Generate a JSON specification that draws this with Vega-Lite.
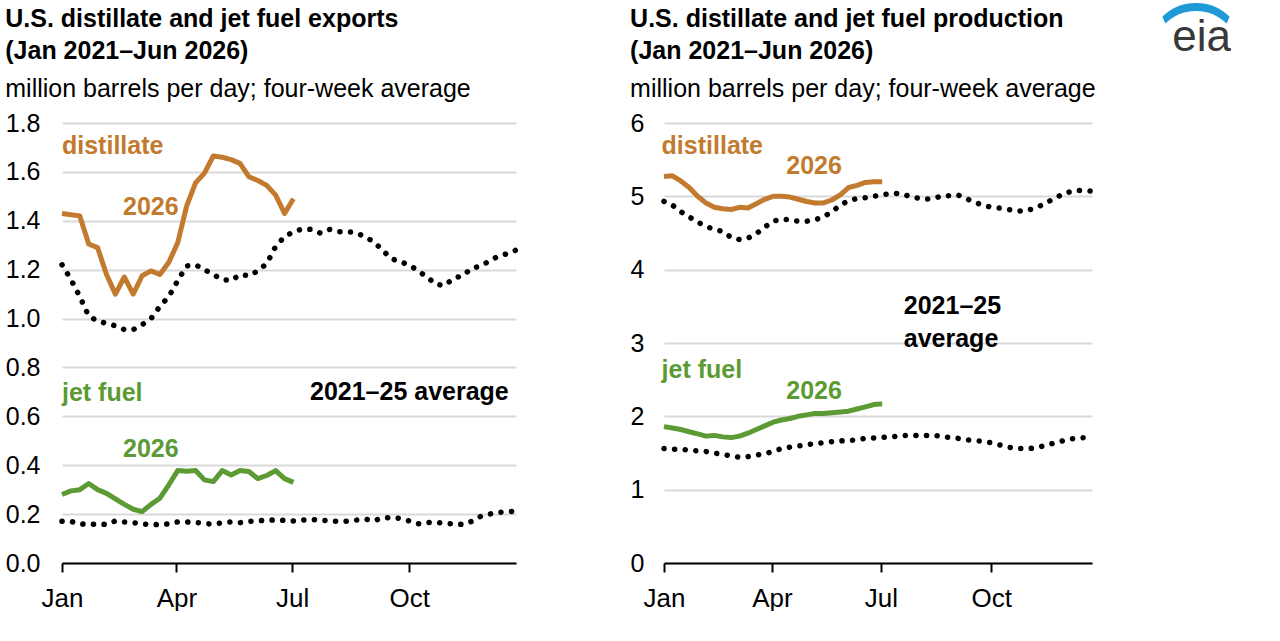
{
  "$schema": "https://vega.github.io/schema/vega-lite/v6.json",
  "background": "white",
  "padding": {"left": 5, "top": -38, "right": 0, "bottom": 0},
  "title": {
    "text": "︵",
    "subtitle": "eia",
    "anchor": "end",
    "frame": "bounds",
    "offset": -54,
    "dx": 128,
    "font": "Noto Sans CJK JP",
    "fontSize": 70,
    "fontWeight": "bold",
    "lineHeight": 70,
    "color": "#1E9BD7",
    "subtitleFont": "Liberation Sans",
    "subtitleFontSize": 44,
    "subtitleFontWeight": "normal",
    "subtitleColor": "#383838",
    "subtitlePadding": -17
  },
  "config": {
    "view": {"stroke": null},
    "font": "Liberation Sans",
    "concat": {"spacing": 103},
    "title": {
      "font": "Liberation Sans",
      "fontSize": 25,
      "fontWeight": "bold",
      "color": "#000000",
      "anchor": "start",
      "frame": "bounds",
      "lineHeight": 32,
      "subtitleFont": "Liberation Sans",
      "subtitleFontSize": 25,
      "subtitleFontWeight": "normal",
      "subtitleColor": "#000000",
      "subtitleLineHeight": 32,
      "subtitlePadding": 13,
      "offset": 9
    },
    "axis": {"labelFont": "Liberation Sans", "labelFontSize": 25, "labelColor": "#000000", "title": null}
  },
  "datasets": {
    "exports": [
      {"week": "2026-01-01", "fuel": "distillate", "series": "2026", "mbd": 1.43},
      {"week": "2026-01-08", "fuel": "distillate", "series": "2026", "mbd": 1.425},
      {"week": "2026-01-15", "fuel": "distillate", "series": "2026", "mbd": 1.42},
      {"week": "2026-01-22", "fuel": "distillate", "series": "2026", "mbd": 1.305},
      {"week": "2026-01-29", "fuel": "distillate", "series": "2026", "mbd": 1.29},
      {"week": "2026-02-05", "fuel": "distillate", "series": "2026", "mbd": 1.18},
      {"week": "2026-02-12", "fuel": "distillate", "series": "2026", "mbd": 1.1},
      {"week": "2026-02-19", "fuel": "distillate", "series": "2026", "mbd": 1.17},
      {"week": "2026-02-26", "fuel": "distillate", "series": "2026", "mbd": 1.1},
      {"week": "2026-03-05", "fuel": "distillate", "series": "2026", "mbd": 1.175},
      {"week": "2026-03-12", "fuel": "distillate", "series": "2026", "mbd": 1.195},
      {"week": "2026-03-19", "fuel": "distillate", "series": "2026", "mbd": 1.18},
      {"week": "2026-03-26", "fuel": "distillate", "series": "2026", "mbd": 1.23},
      {"week": "2026-04-02", "fuel": "distillate", "series": "2026", "mbd": 1.31},
      {"week": "2026-04-09", "fuel": "distillate", "series": "2026", "mbd": 1.46},
      {"week": "2026-04-16", "fuel": "distillate", "series": "2026", "mbd": 1.555},
      {"week": "2026-04-23", "fuel": "distillate", "series": "2026", "mbd": 1.595},
      {"week": "2026-04-30", "fuel": "distillate", "series": "2026", "mbd": 1.665},
      {"week": "2026-05-07", "fuel": "distillate", "series": "2026", "mbd": 1.66},
      {"week": "2026-05-14", "fuel": "distillate", "series": "2026", "mbd": 1.65},
      {"week": "2026-05-21", "fuel": "distillate", "series": "2026", "mbd": 1.635},
      {"week": "2026-05-28", "fuel": "distillate", "series": "2026", "mbd": 1.58},
      {"week": "2026-06-04", "fuel": "distillate", "series": "2026", "mbd": 1.565},
      {"week": "2026-06-11", "fuel": "distillate", "series": "2026", "mbd": 1.545},
      {"week": "2026-06-18", "fuel": "distillate", "series": "2026", "mbd": 1.505},
      {"week": "2026-06-25", "fuel": "distillate", "series": "2026", "mbd": 1.43},
      {"week": "2026-07-02", "fuel": "distillate", "series": "2026", "mbd": 1.49},
      {"week": "2026-01-01", "fuel": "distillate", "series": "2021–25 average", "mbd": 1.22},
      {"week": "2026-01-08", "fuel": "distillate", "series": "2021–25 average", "mbd": 1.16},
      {"week": "2026-01-15", "fuel": "distillate", "series": "2021–25 average", "mbd": 1.09},
      {"week": "2026-01-22", "fuel": "distillate", "series": "2021–25 average", "mbd": 1.01},
      {"week": "2026-01-29", "fuel": "distillate", "series": "2021–25 average", "mbd": 0.99},
      {"week": "2026-02-05", "fuel": "distillate", "series": "2021–25 average", "mbd": 0.98},
      {"week": "2026-02-12", "fuel": "distillate", "series": "2021–25 average", "mbd": 0.97},
      {"week": "2026-02-19", "fuel": "distillate", "series": "2021–25 average", "mbd": 0.955},
      {"week": "2026-02-26", "fuel": "distillate", "series": "2021–25 average", "mbd": 0.955},
      {"week": "2026-03-05", "fuel": "distillate", "series": "2021–25 average", "mbd": 0.975},
      {"week": "2026-03-12", "fuel": "distillate", "series": "2021–25 average", "mbd": 1.0},
      {"week": "2026-03-19", "fuel": "distillate", "series": "2021–25 average", "mbd": 1.05},
      {"week": "2026-03-26", "fuel": "distillate", "series": "2021–25 average", "mbd": 1.09},
      {"week": "2026-04-02", "fuel": "distillate", "series": "2021–25 average", "mbd": 1.155},
      {"week": "2026-04-09", "fuel": "distillate", "series": "2021–25 average", "mbd": 1.215},
      {"week": "2026-04-16", "fuel": "distillate", "series": "2021–25 average", "mbd": 1.22},
      {"week": "2026-04-23", "fuel": "distillate", "series": "2021–25 average", "mbd": 1.2},
      {"week": "2026-04-30", "fuel": "distillate", "series": "2021–25 average", "mbd": 1.18},
      {"week": "2026-05-07", "fuel": "distillate", "series": "2021–25 average", "mbd": 1.16},
      {"week": "2026-05-14", "fuel": "distillate", "series": "2021–25 average", "mbd": 1.155},
      {"week": "2026-05-21", "fuel": "distillate", "series": "2021–25 average", "mbd": 1.18},
      {"week": "2026-05-28", "fuel": "distillate", "series": "2021–25 average", "mbd": 1.175},
      {"week": "2026-06-04", "fuel": "distillate", "series": "2021–25 average", "mbd": 1.195},
      {"week": "2026-06-11", "fuel": "distillate", "series": "2021–25 average", "mbd": 1.225},
      {"week": "2026-06-18", "fuel": "distillate", "series": "2021–25 average", "mbd": 1.295},
      {"week": "2026-06-25", "fuel": "distillate", "series": "2021–25 average", "mbd": 1.335},
      {"week": "2026-07-02", "fuel": "distillate", "series": "2021–25 average", "mbd": 1.355},
      {"week": "2026-07-09", "fuel": "distillate", "series": "2021–25 average", "mbd": 1.367},
      {"week": "2026-07-16", "fuel": "distillate", "series": "2021–25 average", "mbd": 1.365},
      {"week": "2026-07-23", "fuel": "distillate", "series": "2021–25 average", "mbd": 1.35},
      {"week": "2026-07-30", "fuel": "distillate", "series": "2021–25 average", "mbd": 1.365},
      {"week": "2026-08-06", "fuel": "distillate", "series": "2021–25 average", "mbd": 1.355},
      {"week": "2026-08-13", "fuel": "distillate", "series": "2021–25 average", "mbd": 1.355},
      {"week": "2026-08-20", "fuel": "distillate", "series": "2021–25 average", "mbd": 1.352},
      {"week": "2026-08-27", "fuel": "distillate", "series": "2021–25 average", "mbd": 1.335},
      {"week": "2026-09-03", "fuel": "distillate", "series": "2021–25 average", "mbd": 1.315},
      {"week": "2026-09-10", "fuel": "distillate", "series": "2021–25 average", "mbd": 1.28},
      {"week": "2026-09-17", "fuel": "distillate", "series": "2021–25 average", "mbd": 1.245},
      {"week": "2026-09-24", "fuel": "distillate", "series": "2021–25 average", "mbd": 1.232},
      {"week": "2026-10-01", "fuel": "distillate", "series": "2021–25 average", "mbd": 1.22},
      {"week": "2026-10-08", "fuel": "distillate", "series": "2021–25 average", "mbd": 1.195},
      {"week": "2026-10-15", "fuel": "distillate", "series": "2021–25 average", "mbd": 1.17},
      {"week": "2026-10-22", "fuel": "distillate", "series": "2021–25 average", "mbd": 1.14},
      {"week": "2026-10-29", "fuel": "distillate", "series": "2021–25 average", "mbd": 1.135},
      {"week": "2026-11-05", "fuel": "distillate", "series": "2021–25 average", "mbd": 1.165},
      {"week": "2026-11-12", "fuel": "distillate", "series": "2021–25 average", "mbd": 1.175},
      {"week": "2026-11-19", "fuel": "distillate", "series": "2021–25 average", "mbd": 1.205},
      {"week": "2026-11-26", "fuel": "distillate", "series": "2021–25 average", "mbd": 1.215},
      {"week": "2026-12-03", "fuel": "distillate", "series": "2021–25 average", "mbd": 1.235},
      {"week": "2026-12-10", "fuel": "distillate", "series": "2021–25 average", "mbd": 1.255},
      {"week": "2026-12-17", "fuel": "distillate", "series": "2021–25 average", "mbd": 1.265},
      {"week": "2026-12-24", "fuel": "distillate", "series": "2021–25 average", "mbd": 1.28},
      {"week": "2026-01-01", "fuel": "jet fuel", "series": "2026", "mbd": 0.28},
      {"week": "2026-01-08", "fuel": "jet fuel", "series": "2026", "mbd": 0.295},
      {"week": "2026-01-15", "fuel": "jet fuel", "series": "2026", "mbd": 0.3},
      {"week": "2026-01-22", "fuel": "jet fuel", "series": "2026", "mbd": 0.325},
      {"week": "2026-01-29", "fuel": "jet fuel", "series": "2026", "mbd": 0.3},
      {"week": "2026-02-05", "fuel": "jet fuel", "series": "2026", "mbd": 0.285},
      {"week": "2026-02-12", "fuel": "jet fuel", "series": "2026", "mbd": 0.262},
      {"week": "2026-02-19", "fuel": "jet fuel", "series": "2026", "mbd": 0.24},
      {"week": "2026-02-26", "fuel": "jet fuel", "series": "2026", "mbd": 0.22},
      {"week": "2026-03-05", "fuel": "jet fuel", "series": "2026", "mbd": 0.21},
      {"week": "2026-03-12", "fuel": "jet fuel", "series": "2026", "mbd": 0.24},
      {"week": "2026-03-19", "fuel": "jet fuel", "series": "2026", "mbd": 0.265},
      {"week": "2026-03-26", "fuel": "jet fuel", "series": "2026", "mbd": 0.32},
      {"week": "2026-04-02", "fuel": "jet fuel", "series": "2026", "mbd": 0.378},
      {"week": "2026-04-09", "fuel": "jet fuel", "series": "2026", "mbd": 0.375},
      {"week": "2026-04-16", "fuel": "jet fuel", "series": "2026", "mbd": 0.378},
      {"week": "2026-04-23", "fuel": "jet fuel", "series": "2026", "mbd": 0.34},
      {"week": "2026-04-30", "fuel": "jet fuel", "series": "2026", "mbd": 0.333},
      {"week": "2026-05-07", "fuel": "jet fuel", "series": "2026", "mbd": 0.378},
      {"week": "2026-05-14", "fuel": "jet fuel", "series": "2026", "mbd": 0.36},
      {"week": "2026-05-21", "fuel": "jet fuel", "series": "2026", "mbd": 0.378},
      {"week": "2026-05-28", "fuel": "jet fuel", "series": "2026", "mbd": 0.374},
      {"week": "2026-06-04", "fuel": "jet fuel", "series": "2026", "mbd": 0.345},
      {"week": "2026-06-11", "fuel": "jet fuel", "series": "2026", "mbd": 0.358},
      {"week": "2026-06-18", "fuel": "jet fuel", "series": "2026", "mbd": 0.378},
      {"week": "2026-06-25", "fuel": "jet fuel", "series": "2026", "mbd": 0.345},
      {"week": "2026-07-02", "fuel": "jet fuel", "series": "2026", "mbd": 0.33},
      {"week": "2026-01-01", "fuel": "jet fuel", "series": "2021–25 average", "mbd": 0.171},
      {"week": "2026-01-08", "fuel": "jet fuel", "series": "2021–25 average", "mbd": 0.17},
      {"week": "2026-01-15", "fuel": "jet fuel", "series": "2021–25 average", "mbd": 0.16},
      {"week": "2026-01-22", "fuel": "jet fuel", "series": "2021–25 average", "mbd": 0.158},
      {"week": "2026-01-29", "fuel": "jet fuel", "series": "2021–25 average", "mbd": 0.159},
      {"week": "2026-02-05", "fuel": "jet fuel", "series": "2021–25 average", "mbd": 0.158},
      {"week": "2026-02-12", "fuel": "jet fuel", "series": "2021–25 average", "mbd": 0.172},
      {"week": "2026-02-19", "fuel": "jet fuel", "series": "2021–25 average", "mbd": 0.168},
      {"week": "2026-02-26", "fuel": "jet fuel", "series": "2021–25 average", "mbd": 0.165},
      {"week": "2026-03-05", "fuel": "jet fuel", "series": "2021–25 average", "mbd": 0.16},
      {"week": "2026-03-12", "fuel": "jet fuel", "series": "2021–25 average", "mbd": 0.156},
      {"week": "2026-03-19", "fuel": "jet fuel", "series": "2021–25 average", "mbd": 0.158},
      {"week": "2026-03-26", "fuel": "jet fuel", "series": "2021–25 average", "mbd": 0.16},
      {"week": "2026-04-02", "fuel": "jet fuel", "series": "2021–25 average", "mbd": 0.168},
      {"week": "2026-04-09", "fuel": "jet fuel", "series": "2021–25 average", "mbd": 0.168},
      {"week": "2026-04-16", "fuel": "jet fuel", "series": "2021–25 average", "mbd": 0.166},
      {"week": "2026-04-23", "fuel": "jet fuel", "series": "2021–25 average", "mbd": 0.162},
      {"week": "2026-04-30", "fuel": "jet fuel", "series": "2021–25 average", "mbd": 0.158},
      {"week": "2026-05-07", "fuel": "jet fuel", "series": "2021–25 average", "mbd": 0.165},
      {"week": "2026-05-14", "fuel": "jet fuel", "series": "2021–25 average", "mbd": 0.168},
      {"week": "2026-05-21", "fuel": "jet fuel", "series": "2021–25 average", "mbd": 0.165},
      {"week": "2026-05-28", "fuel": "jet fuel", "series": "2021–25 average", "mbd": 0.17},
      {"week": "2026-06-04", "fuel": "jet fuel", "series": "2021–25 average", "mbd": 0.173},
      {"week": "2026-06-11", "fuel": "jet fuel", "series": "2021–25 average", "mbd": 0.175},
      {"week": "2026-06-18", "fuel": "jet fuel", "series": "2021–25 average", "mbd": 0.176},
      {"week": "2026-06-25", "fuel": "jet fuel", "series": "2021–25 average", "mbd": 0.174},
      {"week": "2026-07-02", "fuel": "jet fuel", "series": "2021–25 average", "mbd": 0.172},
      {"week": "2026-07-09", "fuel": "jet fuel", "series": "2021–25 average", "mbd": 0.176},
      {"week": "2026-07-16", "fuel": "jet fuel", "series": "2021–25 average", "mbd": 0.178},
      {"week": "2026-07-23", "fuel": "jet fuel", "series": "2021–25 average", "mbd": 0.176},
      {"week": "2026-07-30", "fuel": "jet fuel", "series": "2021–25 average", "mbd": 0.172},
      {"week": "2026-08-06", "fuel": "jet fuel", "series": "2021–25 average", "mbd": 0.171},
      {"week": "2026-08-13", "fuel": "jet fuel", "series": "2021–25 average", "mbd": 0.171},
      {"week": "2026-08-20", "fuel": "jet fuel", "series": "2021–25 average", "mbd": 0.175},
      {"week": "2026-08-27", "fuel": "jet fuel", "series": "2021–25 average", "mbd": 0.18},
      {"week": "2026-09-03", "fuel": "jet fuel", "series": "2021–25 average", "mbd": 0.172},
      {"week": "2026-09-10", "fuel": "jet fuel", "series": "2021–25 average", "mbd": 0.185},
      {"week": "2026-09-17", "fuel": "jet fuel", "series": "2021–25 average", "mbd": 0.186},
      {"week": "2026-09-24", "fuel": "jet fuel", "series": "2021–25 average", "mbd": 0.182},
      {"week": "2026-10-01", "fuel": "jet fuel", "series": "2021–25 average", "mbd": 0.172},
      {"week": "2026-10-08", "fuel": "jet fuel", "series": "2021–25 average", "mbd": 0.16},
      {"week": "2026-10-15", "fuel": "jet fuel", "series": "2021–25 average", "mbd": 0.166},
      {"week": "2026-10-22", "fuel": "jet fuel", "series": "2021–25 average", "mbd": 0.166},
      {"week": "2026-10-29", "fuel": "jet fuel", "series": "2021–25 average", "mbd": 0.163},
      {"week": "2026-11-05", "fuel": "jet fuel", "series": "2021–25 average", "mbd": 0.159},
      {"week": "2026-11-12", "fuel": "jet fuel", "series": "2021–25 average", "mbd": 0.158},
      {"week": "2026-11-19", "fuel": "jet fuel", "series": "2021–25 average", "mbd": 0.17},
      {"week": "2026-11-26", "fuel": "jet fuel", "series": "2021–25 average", "mbd": 0.19},
      {"week": "2026-12-03", "fuel": "jet fuel", "series": "2021–25 average", "mbd": 0.2},
      {"week": "2026-12-10", "fuel": "jet fuel", "series": "2021–25 average", "mbd": 0.207},
      {"week": "2026-12-17", "fuel": "jet fuel", "series": "2021–25 average", "mbd": 0.21},
      {"week": "2026-12-24", "fuel": "jet fuel", "series": "2021–25 average", "mbd": 0.212}
    ],
    "exportNotes": [
      {"label": "distillate", "fuel": "distillate", "week": "2026-01-01", "mbd": 1.705},
      {"label": "2026", "fuel": "distillate", "week": "2026-02-18", "mbd": 1.455},
      {"label": "jet fuel", "fuel": "jet fuel", "week": "2026-01-01", "mbd": 0.695},
      {"label": "2026", "fuel": "jet fuel", "week": "2026-02-18", "mbd": 0.465},
      {"label": "2021–25 average", "fuel": "2021–25 average", "week": "2026-07-15", "mbd": 0.7}
    ],
    "production": [
      {"week": "2026-01-01", "fuel": "distillate", "series": "2026", "mbd": 5.27},
      {"week": "2026-01-08", "fuel": "distillate", "series": "2026", "mbd": 5.28},
      {"week": "2026-01-15", "fuel": "distillate", "series": "2026", "mbd": 5.21},
      {"week": "2026-01-22", "fuel": "distillate", "series": "2026", "mbd": 5.12},
      {"week": "2026-01-29", "fuel": "distillate", "series": "2026", "mbd": 5.0},
      {"week": "2026-02-05", "fuel": "distillate", "series": "2026", "mbd": 4.91},
      {"week": "2026-02-12", "fuel": "distillate", "series": "2026", "mbd": 4.85},
      {"week": "2026-02-19", "fuel": "distillate", "series": "2026", "mbd": 4.83},
      {"week": "2026-02-26", "fuel": "distillate", "series": "2026", "mbd": 4.82},
      {"week": "2026-03-05", "fuel": "distillate", "series": "2026", "mbd": 4.85},
      {"week": "2026-03-12", "fuel": "distillate", "series": "2026", "mbd": 4.84},
      {"week": "2026-03-19", "fuel": "distillate", "series": "2026", "mbd": 4.9},
      {"week": "2026-03-26", "fuel": "distillate", "series": "2026", "mbd": 4.96},
      {"week": "2026-04-02", "fuel": "distillate", "series": "2026", "mbd": 5.0},
      {"week": "2026-04-09", "fuel": "distillate", "series": "2026", "mbd": 5.0},
      {"week": "2026-04-16", "fuel": "distillate", "series": "2026", "mbd": 4.99},
      {"week": "2026-04-23", "fuel": "distillate", "series": "2026", "mbd": 4.96},
      {"week": "2026-04-30", "fuel": "distillate", "series": "2026", "mbd": 4.93},
      {"week": "2026-05-07", "fuel": "distillate", "series": "2026", "mbd": 4.91},
      {"week": "2026-05-14", "fuel": "distillate", "series": "2026", "mbd": 4.91},
      {"week": "2026-05-21", "fuel": "distillate", "series": "2026", "mbd": 4.95},
      {"week": "2026-05-28", "fuel": "distillate", "series": "2026", "mbd": 5.02},
      {"week": "2026-06-04", "fuel": "distillate", "series": "2026", "mbd": 5.12},
      {"week": "2026-06-11", "fuel": "distillate", "series": "2026", "mbd": 5.15},
      {"week": "2026-06-18", "fuel": "distillate", "series": "2026", "mbd": 5.19},
      {"week": "2026-06-25", "fuel": "distillate", "series": "2026", "mbd": 5.2},
      {"week": "2026-07-02", "fuel": "distillate", "series": "2026", "mbd": 5.2},
      {"week": "2026-01-01", "fuel": "distillate", "series": "2021–25 average", "mbd": 4.93},
      {"week": "2026-01-08", "fuel": "distillate", "series": "2021–25 average", "mbd": 4.88},
      {"week": "2026-01-15", "fuel": "distillate", "series": "2021–25 average", "mbd": 4.79},
      {"week": "2026-01-22", "fuel": "distillate", "series": "2021–25 average", "mbd": 4.72},
      {"week": "2026-01-29", "fuel": "distillate", "series": "2021–25 average", "mbd": 4.65},
      {"week": "2026-02-05", "fuel": "distillate", "series": "2021–25 average", "mbd": 4.59},
      {"week": "2026-02-12", "fuel": "distillate", "series": "2021–25 average", "mbd": 4.55},
      {"week": "2026-02-19", "fuel": "distillate", "series": "2021–25 average", "mbd": 4.52},
      {"week": "2026-02-26", "fuel": "distillate", "series": "2021–25 average", "mbd": 4.44},
      {"week": "2026-03-05", "fuel": "distillate", "series": "2021–25 average", "mbd": 4.41},
      {"week": "2026-03-12", "fuel": "distillate", "series": "2021–25 average", "mbd": 4.43},
      {"week": "2026-03-19", "fuel": "distillate", "series": "2021–25 average", "mbd": 4.49},
      {"week": "2026-03-26", "fuel": "distillate", "series": "2021–25 average", "mbd": 4.58},
      {"week": "2026-04-02", "fuel": "distillate", "series": "2021–25 average", "mbd": 4.66},
      {"week": "2026-04-09", "fuel": "distillate", "series": "2021–25 average", "mbd": 4.69},
      {"week": "2026-04-16", "fuel": "distillate", "series": "2021–25 average", "mbd": 4.68},
      {"week": "2026-04-23", "fuel": "distillate", "series": "2021–25 average", "mbd": 4.66},
      {"week": "2026-04-30", "fuel": "distillate", "series": "2021–25 average", "mbd": 4.66},
      {"week": "2026-05-07", "fuel": "distillate", "series": "2021–25 average", "mbd": 4.68},
      {"week": "2026-05-14", "fuel": "distillate", "series": "2021–25 average", "mbd": 4.72},
      {"week": "2026-05-21", "fuel": "distillate", "series": "2021–25 average", "mbd": 4.79},
      {"week": "2026-05-28", "fuel": "distillate", "series": "2021–25 average", "mbd": 4.88},
      {"week": "2026-06-04", "fuel": "distillate", "series": "2021–25 average", "mbd": 4.94},
      {"week": "2026-06-11", "fuel": "distillate", "series": "2021–25 average", "mbd": 4.97},
      {"week": "2026-06-18", "fuel": "distillate", "series": "2021–25 average", "mbd": 4.98},
      {"week": "2026-06-25", "fuel": "distillate", "series": "2021–25 average", "mbd": 5.0},
      {"week": "2026-07-02", "fuel": "distillate", "series": "2021–25 average", "mbd": 5.02},
      {"week": "2026-07-09", "fuel": "distillate", "series": "2021–25 average", "mbd": 5.04},
      {"week": "2026-07-16", "fuel": "distillate", "series": "2021–25 average", "mbd": 5.04},
      {"week": "2026-07-23", "fuel": "distillate", "series": "2021–25 average", "mbd": 5.01},
      {"week": "2026-07-30", "fuel": "distillate", "series": "2021–25 average", "mbd": 4.98},
      {"week": "2026-08-06", "fuel": "distillate", "series": "2021–25 average", "mbd": 4.96},
      {"week": "2026-08-13", "fuel": "distillate", "series": "2021–25 average", "mbd": 4.97},
      {"week": "2026-08-20", "fuel": "distillate", "series": "2021–25 average", "mbd": 5.0},
      {"week": "2026-08-27", "fuel": "distillate", "series": "2021–25 average", "mbd": 5.01},
      {"week": "2026-09-03", "fuel": "distillate", "series": "2021–25 average", "mbd": 5.02},
      {"week": "2026-09-10", "fuel": "distillate", "series": "2021–25 average", "mbd": 4.97},
      {"week": "2026-09-17", "fuel": "distillate", "series": "2021–25 average", "mbd": 4.92},
      {"week": "2026-09-24", "fuel": "distillate", "series": "2021–25 average", "mbd": 4.88},
      {"week": "2026-10-01", "fuel": "distillate", "series": "2021–25 average", "mbd": 4.85},
      {"week": "2026-10-08", "fuel": "distillate", "series": "2021–25 average", "mbd": 4.84},
      {"week": "2026-10-15", "fuel": "distillate", "series": "2021–25 average", "mbd": 4.82},
      {"week": "2026-10-22", "fuel": "distillate", "series": "2021–25 average", "mbd": 4.8},
      {"week": "2026-10-29", "fuel": "distillate", "series": "2021–25 average", "mbd": 4.8},
      {"week": "2026-11-05", "fuel": "distillate", "series": "2021–25 average", "mbd": 4.83},
      {"week": "2026-11-12", "fuel": "distillate", "series": "2021–25 average", "mbd": 4.88},
      {"week": "2026-11-19", "fuel": "distillate", "series": "2021–25 average", "mbd": 4.94},
      {"week": "2026-11-26", "fuel": "distillate", "series": "2021–25 average", "mbd": 5.0},
      {"week": "2026-12-03", "fuel": "distillate", "series": "2021–25 average", "mbd": 5.05},
      {"week": "2026-12-10", "fuel": "distillate", "series": "2021–25 average", "mbd": 5.08},
      {"week": "2026-12-17", "fuel": "distillate", "series": "2021–25 average", "mbd": 5.08},
      {"week": "2026-12-24", "fuel": "distillate", "series": "2021–25 average", "mbd": 5.07},
      {"week": "2026-01-01", "fuel": "jet fuel", "series": "2026", "mbd": 1.86},
      {"week": "2026-01-08", "fuel": "jet fuel", "series": "2026", "mbd": 1.84},
      {"week": "2026-01-15", "fuel": "jet fuel", "series": "2026", "mbd": 1.82},
      {"week": "2026-01-22", "fuel": "jet fuel", "series": "2026", "mbd": 1.79},
      {"week": "2026-01-29", "fuel": "jet fuel", "series": "2026", "mbd": 1.76},
      {"week": "2026-02-05", "fuel": "jet fuel", "series": "2026", "mbd": 1.73},
      {"week": "2026-02-12", "fuel": "jet fuel", "series": "2026", "mbd": 1.74},
      {"week": "2026-02-19", "fuel": "jet fuel", "series": "2026", "mbd": 1.72},
      {"week": "2026-02-26", "fuel": "jet fuel", "series": "2026", "mbd": 1.71},
      {"week": "2026-03-05", "fuel": "jet fuel", "series": "2026", "mbd": 1.73},
      {"week": "2026-03-12", "fuel": "jet fuel", "series": "2026", "mbd": 1.77},
      {"week": "2026-03-19", "fuel": "jet fuel", "series": "2026", "mbd": 1.82},
      {"week": "2026-03-26", "fuel": "jet fuel", "series": "2026", "mbd": 1.87},
      {"week": "2026-04-02", "fuel": "jet fuel", "series": "2026", "mbd": 1.92},
      {"week": "2026-04-09", "fuel": "jet fuel", "series": "2026", "mbd": 1.95},
      {"week": "2026-04-16", "fuel": "jet fuel", "series": "2026", "mbd": 1.97},
      {"week": "2026-04-23", "fuel": "jet fuel", "series": "2026", "mbd": 2.0},
      {"week": "2026-04-30", "fuel": "jet fuel", "series": "2026", "mbd": 2.02},
      {"week": "2026-05-07", "fuel": "jet fuel", "series": "2026", "mbd": 2.04},
      {"week": "2026-05-14", "fuel": "jet fuel", "series": "2026", "mbd": 2.04},
      {"week": "2026-05-21", "fuel": "jet fuel", "series": "2026", "mbd": 2.05},
      {"week": "2026-05-28", "fuel": "jet fuel", "series": "2026", "mbd": 2.06},
      {"week": "2026-06-04", "fuel": "jet fuel", "series": "2026", "mbd": 2.07},
      {"week": "2026-06-11", "fuel": "jet fuel", "series": "2026", "mbd": 2.1},
      {"week": "2026-06-18", "fuel": "jet fuel", "series": "2026", "mbd": 2.13},
      {"week": "2026-06-25", "fuel": "jet fuel", "series": "2026", "mbd": 2.16},
      {"week": "2026-07-02", "fuel": "jet fuel", "series": "2026", "mbd": 2.17},
      {"week": "2026-01-01", "fuel": "jet fuel", "series": "2021–25 average", "mbd": 1.56},
      {"week": "2026-01-08", "fuel": "jet fuel", "series": "2021–25 average", "mbd": 1.55},
      {"week": "2026-01-15", "fuel": "jet fuel", "series": "2021–25 average", "mbd": 1.55},
      {"week": "2026-01-22", "fuel": "jet fuel", "series": "2021–25 average", "mbd": 1.54},
      {"week": "2026-01-29", "fuel": "jet fuel", "series": "2021–25 average", "mbd": 1.53},
      {"week": "2026-02-05", "fuel": "jet fuel", "series": "2021–25 average", "mbd": 1.52},
      {"week": "2026-02-12", "fuel": "jet fuel", "series": "2021–25 average", "mbd": 1.5},
      {"week": "2026-02-19", "fuel": "jet fuel", "series": "2021–25 average", "mbd": 1.48},
      {"week": "2026-02-26", "fuel": "jet fuel", "series": "2021–25 average", "mbd": 1.46},
      {"week": "2026-03-05", "fuel": "jet fuel", "series": "2021–25 average", "mbd": 1.44},
      {"week": "2026-03-12", "fuel": "jet fuel", "series": "2021–25 average", "mbd": 1.45},
      {"week": "2026-03-19", "fuel": "jet fuel", "series": "2021–25 average", "mbd": 1.47},
      {"week": "2026-03-26", "fuel": "jet fuel", "series": "2021–25 average", "mbd": 1.49},
      {"week": "2026-04-02", "fuel": "jet fuel", "series": "2021–25 average", "mbd": 1.52},
      {"week": "2026-04-09", "fuel": "jet fuel", "series": "2021–25 average", "mbd": 1.56},
      {"week": "2026-04-16", "fuel": "jet fuel", "series": "2021–25 average", "mbd": 1.58},
      {"week": "2026-04-23", "fuel": "jet fuel", "series": "2021–25 average", "mbd": 1.595},
      {"week": "2026-04-30", "fuel": "jet fuel", "series": "2021–25 average", "mbd": 1.61},
      {"week": "2026-05-07", "fuel": "jet fuel", "series": "2021–25 average", "mbd": 1.63},
      {"week": "2026-05-14", "fuel": "jet fuel", "series": "2021–25 average", "mbd": 1.64},
      {"week": "2026-05-21", "fuel": "jet fuel", "series": "2021–25 average", "mbd": 1.655},
      {"week": "2026-05-28", "fuel": "jet fuel", "series": "2021–25 average", "mbd": 1.665},
      {"week": "2026-06-04", "fuel": "jet fuel", "series": "2021–25 average", "mbd": 1.67},
      {"week": "2026-06-11", "fuel": "jet fuel", "series": "2021–25 average", "mbd": 1.68},
      {"week": "2026-06-18", "fuel": "jet fuel", "series": "2021–25 average", "mbd": 1.7},
      {"week": "2026-06-25", "fuel": "jet fuel", "series": "2021–25 average", "mbd": 1.705},
      {"week": "2026-07-02", "fuel": "jet fuel", "series": "2021–25 average", "mbd": 1.715},
      {"week": "2026-07-09", "fuel": "jet fuel", "series": "2021–25 average", "mbd": 1.72},
      {"week": "2026-07-16", "fuel": "jet fuel", "series": "2021–25 average", "mbd": 1.73},
      {"week": "2026-07-23", "fuel": "jet fuel", "series": "2021–25 average", "mbd": 1.74},
      {"week": "2026-07-30", "fuel": "jet fuel", "series": "2021–25 average", "mbd": 1.74},
      {"week": "2026-08-06", "fuel": "jet fuel", "series": "2021–25 average", "mbd": 1.74},
      {"week": "2026-08-13", "fuel": "jet fuel", "series": "2021–25 average", "mbd": 1.74},
      {"week": "2026-08-20", "fuel": "jet fuel", "series": "2021–25 average", "mbd": 1.73},
      {"week": "2026-08-27", "fuel": "jet fuel", "series": "2021–25 average", "mbd": 1.71},
      {"week": "2026-09-03", "fuel": "jet fuel", "series": "2021–25 average", "mbd": 1.7},
      {"week": "2026-09-10", "fuel": "jet fuel", "series": "2021–25 average", "mbd": 1.68},
      {"week": "2026-09-17", "fuel": "jet fuel", "series": "2021–25 average", "mbd": 1.67},
      {"week": "2026-09-24", "fuel": "jet fuel", "series": "2021–25 average", "mbd": 1.66},
      {"week": "2026-10-01", "fuel": "jet fuel", "series": "2021–25 average", "mbd": 1.64},
      {"week": "2026-10-08", "fuel": "jet fuel", "series": "2021–25 average", "mbd": 1.61},
      {"week": "2026-10-15", "fuel": "jet fuel", "series": "2021–25 average", "mbd": 1.58},
      {"week": "2026-10-22", "fuel": "jet fuel", "series": "2021–25 average", "mbd": 1.56},
      {"week": "2026-10-29", "fuel": "jet fuel", "series": "2021–25 average", "mbd": 1.56},
      {"week": "2026-11-05", "fuel": "jet fuel", "series": "2021–25 average", "mbd": 1.565},
      {"week": "2026-11-12", "fuel": "jet fuel", "series": "2021–25 average", "mbd": 1.59},
      {"week": "2026-11-19", "fuel": "jet fuel", "series": "2021–25 average", "mbd": 1.62},
      {"week": "2026-11-26", "fuel": "jet fuel", "series": "2021–25 average", "mbd": 1.65},
      {"week": "2026-12-03", "fuel": "jet fuel", "series": "2021–25 average", "mbd": 1.68},
      {"week": "2026-12-10", "fuel": "jet fuel", "series": "2021–25 average", "mbd": 1.7},
      {"week": "2026-12-17", "fuel": "jet fuel", "series": "2021–25 average", "mbd": 1.71},
      {"week": "2026-12-24", "fuel": "jet fuel", "series": "2021–25 average", "mbd": 1.72}
    ],
    "productionNotes": [
      {"label": "distillate", "fuel": "distillate", "week": "2025-12-30", "mbd": 5.69},
      {"label": "2026", "fuel": "distillate", "week": "2026-04-13", "mbd": 5.41},
      {"label": "jet fuel", "fuel": "jet fuel", "week": "2025-12-30", "mbd": 2.63},
      {"label": "2026", "fuel": "jet fuel", "week": "2026-04-13", "mbd": 2.35},
      {"label": "2021–25", "fuel": "2021–25 average", "week": "2026-07-20", "mbd": 3.5},
      {"label": "average", "fuel": "2021–25 average", "week": "2026-07-20", "mbd": 3.05}
    ]
  },
  "hconcat": [
    {
      "title": {
        "text": ["U.S. distillate and jet fuel exports", "(Jan 2021–Jun 2026)"],
        "subtitle": "million barrels per day; four-week average"
      },
      "width": 454,
      "height": 440,
      "encoding": {
        "x": {
          "field": "week",
          "type": "temporal",
          "scale": {"type": "utc", "domain": [{"year": 2026, "month": 1, "date": 1, "utc": true}, {"year": 2026, "month": 12, "date": 24, "utc": true}]},
          "axis": {
            "values": [{"year": 2026, "month": 1, "date": 1, "utc": true}, {"year": 2026, "month": 4, "date": 1, "utc": true}, {"year": 2026, "month": 7, "date": 1, "utc": true}, {"year": 2026, "month": 10, "date": 1, "utc": true}],
            "format": "%b",
            "grid": false,
            "domainColor": "#000000",
            "domainWidth": 2,
            "tickColor": "#000000",
            "tickWidth": 2,
            "tickSize": 9,
            "labelPadding": 13,
            "labelFontSize": 26,
            "labelFlush": false,
            "labelOverlap": false
          }
        },
        "y": {
          "field": "mbd",
          "type": "quantitative",
          "scale": {"domain": [0, 1.8], "nice": false},
          "axis": {
            "values": [0, 0.2, 0.4, 0.6, 0.8, 1.0, 1.2, 1.4, 1.6, 1.8],
            "format": ".1f",
            "domain": false,
            "ticks": false,
            "gridColor": "#D9D9D9",
            "gridWidth": 2,
            "labelPadding": 22
          }
        },
        "color": {"field": "fuel", "type": "nominal", "scale": {"domain": ["distillate", "jet fuel", "2021–25 average"], "range": ["#C27A2E", "#5C9A33", "#000000"]}, "legend": null}
      },
      "layer": [
        {
          "data": {"name": "exports"},
          "transform": [{"filter": "datum.series === '2021–25 average'"}],
          "mark": {"type": "line", "color": "#000000", "strokeWidth": 5.5, "strokeDash": [0.1, 10.5], "strokeCap": "round"},
          "encoding": {"color": null, "detail": {"field": "fuel", "type": "nominal"}}
        },
        {
          "data": {"name": "exports"},
          "transform": [{"filter": "datum.series === '2026'"}],
          "mark": {"type": "line", "strokeWidth": 5, "strokeJoin": "round"}
        },
        {
          "data": {"name": "exportNotes"},
          "mark": {"type": "text", "font": "Liberation Sans", "fontSize": 25, "fontWeight": "bold", "align": "left", "baseline": "middle"},
          "encoding": {"text": {"field": "label", "type": "nominal"}}
        }
      ]
    },
    {
      "title": {
        "text": ["U.S. distillate and jet fuel production", "(Jan 2021–Jun 2026)"],
        "subtitle": "million barrels per day; four-week average"
      },
      "width": 428,
      "height": 440,
      "encoding": {
        "x": {
          "field": "week",
          "type": "temporal",
          "scale": {"type": "utc", "domain": [{"year": 2026, "month": 1, "date": 1, "utc": true}, {"year": 2026, "month": 12, "date": 24, "utc": true}]},
          "axis": {
            "values": [{"year": 2026, "month": 1, "date": 1, "utc": true}, {"year": 2026, "month": 4, "date": 1, "utc": true}, {"year": 2026, "month": 7, "date": 1, "utc": true}, {"year": 2026, "month": 10, "date": 1, "utc": true}],
            "format": "%b",
            "grid": false,
            "domainColor": "#000000",
            "domainWidth": 2,
            "tickColor": "#000000",
            "tickWidth": 2,
            "tickSize": 9,
            "labelPadding": 13,
            "labelFontSize": 26,
            "labelFlush": false,
            "labelOverlap": false
          }
        },
        "y": {
          "field": "mbd",
          "type": "quantitative",
          "scale": {"domain": [0, 6], "nice": false},
          "axis": {
            "values": [0, 1, 2, 3, 4, 5, 6],
            "format": "d",
            "domain": false,
            "ticks": false,
            "gridColor": "#D9D9D9",
            "gridWidth": 2,
            "labelPadding": 20
          }
        },
        "color": {"field": "fuel", "type": "nominal", "scale": {"domain": ["distillate", "jet fuel", "2021–25 average"], "range": ["#C27A2E", "#5C9A33", "#000000"]}, "legend": null}
      },
      "layer": [
        {
          "data": {"name": "production"},
          "transform": [{"filter": "datum.series === '2021–25 average'"}],
          "mark": {"type": "line", "color": "#000000", "strokeWidth": 5.5, "strokeDash": [0.1, 10.5], "strokeCap": "round"},
          "encoding": {"color": null, "detail": {"field": "fuel", "type": "nominal"}}
        },
        {
          "data": {"name": "production"},
          "transform": [{"filter": "datum.series === '2026'"}],
          "mark": {"type": "line", "strokeWidth": 5, "strokeJoin": "round"}
        },
        {
          "data": {"name": "productionNotes"},
          "mark": {"type": "text", "font": "Liberation Sans", "fontSize": 25, "fontWeight": "bold", "align": "left", "baseline": "middle"},
          "encoding": {"text": {"field": "label", "type": "nominal"}}
        }
      ]
    }
  ]
}
